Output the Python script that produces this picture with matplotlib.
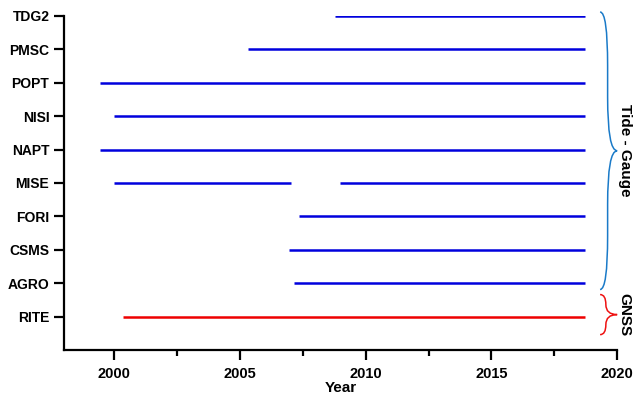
import matplotlib.pyplot as plt
from matplotlib.path import Path
from matplotlib.patches import PathPatch
from matplotlib.ticker import MultipleLocator

plt.rcParams['font.family'] = ['Liberation Sans', 'DejaVu Sans']
plt.rcParams['font.weight'] = 'bold'

# Station records (start, end) in decimal years, bottom to top
stations = ['RITE', 'AGRO', 'CSMS', 'FORI', 'MISE', 'NAPT', 'NISI', 'POPT', 'PMSC', 'TDG2']
periods = [
    [(2000.36, 2018.73)],
    [(2007.13, 2018.73)],
    [(2006.96, 2018.73)],
    [(2007.33, 2018.73)],
    [(2000.0, 2007.03), (2008.96, 2018.73)],
    [(1999.45, 2018.73)],
    [(2000.0, 2018.73)],
    [(1999.45, 2018.73)],
    [(2005.33, 2018.73)],
    [(2008.78, 2018.73)],
]
kinds = ['GNSS'] + ['Tide - Gauge'] * 9
kind_colors = {'GNSS': '#ee0000', 'Tide - Gauge': '#0000dd'}
brace_colors = {'GNSS': '#ee1111', 'Tide - Gauge': '#1a7ac8'}


def brace(ax, x0, xm, x1, y_top, y_bot, r, color):
    ymid = (y_top + y_bot) / 2
    verts = [(x0, y_top), (xm, y_top), (xm, y_top - r),
             (xm, ymid + r),
             (xm, ymid), (x1, ymid),
             (xm, ymid), (xm, ymid - r),
             (xm, y_bot + r),
             (xm, y_bot), (x0, y_bot)]
    codes = [Path.MOVETO, Path.CURVE3, Path.CURVE3,
             Path.LINETO,
             Path.CURVE3, Path.CURVE3,
             Path.CURVE3, Path.CURVE3,
             Path.LINETO,
             Path.CURVE3, Path.CURVE3]
    patch = PathPatch(Path(verts, codes), facecolor='none', edgecolor=color,
                      lw=1.1, clip_on=False)
    ax.add_patch(patch)


fig = plt.figure(figsize=(6.33, 3.99), dpi=100)
ax = fig.add_axes([0.101, 0.1228, 0.874, 0.8372])

for i, (name, segs) in enumerate(zip(stations, periods)):
    for start, end in segs:
        ax.plot([start, end], [i, i], color=kind_colors[kinds[i]], lw=1.8,
                solid_capstyle='butt')

ax.set_xlim(1998, 2020)
ax.set_ylim(-1, 9)
ax.set_yticks(range(len(stations)))
ax.set_yticklabels(stations, fontsize=10, fontweight='bold')
ax.xaxis.set_major_locator(MultipleLocator(5))
ax.xaxis.set_minor_locator(MultipleLocator(2.5))
for lab in ax.get_xticklabels():
    lab.set_fontweight('bold')
ax.tick_params(axis='x', labelsize=10.5, width=1.6, length=7.5, pad=4.5)
ax.tick_params(axis='x', which='minor', width=1.6, length=4.3)
ax.tick_params(axis='y', width=1.6, length=7.5, pad=3)
ax.set_xlabel('Year', fontsize=11, fontweight='bold', labelpad=0)

for side in ['top', 'right']:
    ax.spines[side].set_visible(False)
for side in ['left', 'bottom']:
    ax.spines[side].set_linewidth(1.6)

# Braces grouping the station types
brace(ax, 2019.32, 2019.62, 2020.0, 9.12, 0.81, 1.6, brace_colors['Tide - Gauge'])
brace(ax, 2019.32, 2019.55, 2020.0, 0.66, -0.54, 0.3, brace_colors['GNSS'])
ax.text(2020.3, 4.97, 'Tide - Gauge', rotation=-90, ha='center', va='center',
        fontsize=11, fontweight='bold', clip_on=False)
ax.text(2020.3, 0.06, 'GNSS', rotation=-90, ha='center', va='center',
        fontsize=11, fontweight='bold', clip_on=False)

fig.savefig('out.png', dpi=100)
